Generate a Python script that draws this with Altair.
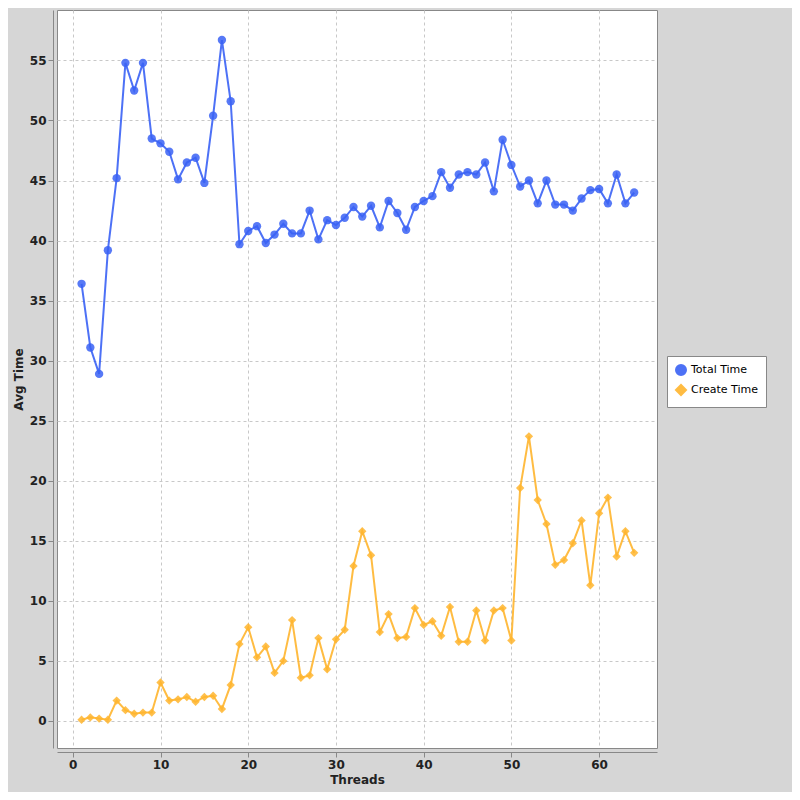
import altair as alt
import pandas as pd

threads = list(range(1, 65))
total_time = [36.4,31.1,28.9,39.2,45.2,54.8,52.5,54.8,48.5,48.1,47.4,45.1,46.5,46.9,44.8,50.4,56.7,51.6,39.7,40.8,41.2,39.8,40.5,41.4,40.6,40.6,42.5,40.1,41.7,41.3,41.9,42.8,42.0,42.9,41.1,43.3,42.3,40.9,42.8,43.3,43.7,45.7,44.4,45.5,45.7,45.5,46.5,44.1,48.4,46.3,44.5,45.0,43.1,45.0,43.0,43.0,42.5,43.5,44.2,44.3,43.1,45.5,43.1,44.0]
create_time = [0.1,0.3,0.2,0.1,1.7,0.9,0.6,0.7,0.7,3.2,1.7,1.8,2.0,1.6,2.0,2.1,1.0,3.0,6.4,7.8,5.3,6.2,4.0,5.0,8.4,3.6,3.8,6.9,4.3,6.8,7.6,12.9,15.8,13.8,7.4,8.9,6.9,7.0,9.4,8.0,8.3,7.1,9.5,6.6,6.6,9.2,6.7,9.2,9.4,6.7,19.4,23.7,18.4,16.4,13.0,13.4,14.8,16.7,11.3,17.3,18.6,13.7,15.8,14.0]
series = ["Total Time", "Create Time"]
colors = ["#3a62f5", "#ffb52e"]

df = pd.concat([
    pd.DataFrame({"Threads": threads, "Avg Time": total_time, "Series": series[0]}),
    pd.DataFrame({"Threads": threads, "Avg Time": create_time, "Series": series[1]}),
])

font = "DejaVu Sans"
x = alt.X("Threads:Q", scale=alt.Scale(domain=[-1.8, 66.6], nice=False, zero=False),
          axis=alt.Axis(values=[0, 10, 20, 30, 40, 50, 60], title="Threads", grid=True,
                        gridDash=[3, 3], gridColor="#c8c8c8", labelFont=font, titleFont=font,
                        labelFontSize=12, titleFontSize=12, labelFontWeight="bold",
                        titleFontWeight="bold", domainColor="#888", tickColor="#888",
                        labelColor="#222", titleColor="#222", offset=4))
y = alt.Y("Avg Time:Q", scale=alt.Scale(domain=[-2.25, 59.2], nice=False, zero=False),
          axis=alt.Axis(values=list(range(0, 60, 5)), title="Avg Time", grid=True,
                        gridDash=[3, 3], gridColor="#c8c8c8", labelFont=font, titleFont=font,
                        labelFontSize=12, titleFontSize=12, labelFontWeight="bold",
                        titleFontWeight="bold", domainColor="#888", tickColor="#888",
                        labelColor="#222", titleColor="#222", offset=4))
color = alt.Color("Series:N", scale=alt.Scale(domain=series, range=colors),
                  legend=alt.Legend(title=None, orient="none", legendX=610, legendY=346,
                                    labelFont=font, labelFontSize=11, fillColor="white",
                                    strokeColor="#888", padding=8, symbolType="stroke",
                                    symbolStrokeWidth=2))
shape = alt.Shape("Series:N", scale=alt.Scale(domain=series, range=["circle", "diamond"]), legend=None)

line = alt.Chart(df).mark_line(strokeWidth=2, opacity=0.9).encode(x=x, y=y, color=color, detail="Series:N")
pts = alt.Chart(df).mark_point(filled=True, size=70, opacity=0.85).encode(
    x=x, y=y, color=alt.Color("Series:N", scale=alt.Scale(domain=series, range=colors), legend=None), shape=shape)

chart = (line + pts).properties(
    width=600, height=738, background="#d6d6d6",
    autosize=alt.AutoSizeParams(type="none"),
    padding={"left": 49, "top": 2, "right": 135, "bottom": 44},
).configure_view(fill="white", stroke="#888")

chart.save("out.html", embed_options={"renderer": "svg", "actions": False})
